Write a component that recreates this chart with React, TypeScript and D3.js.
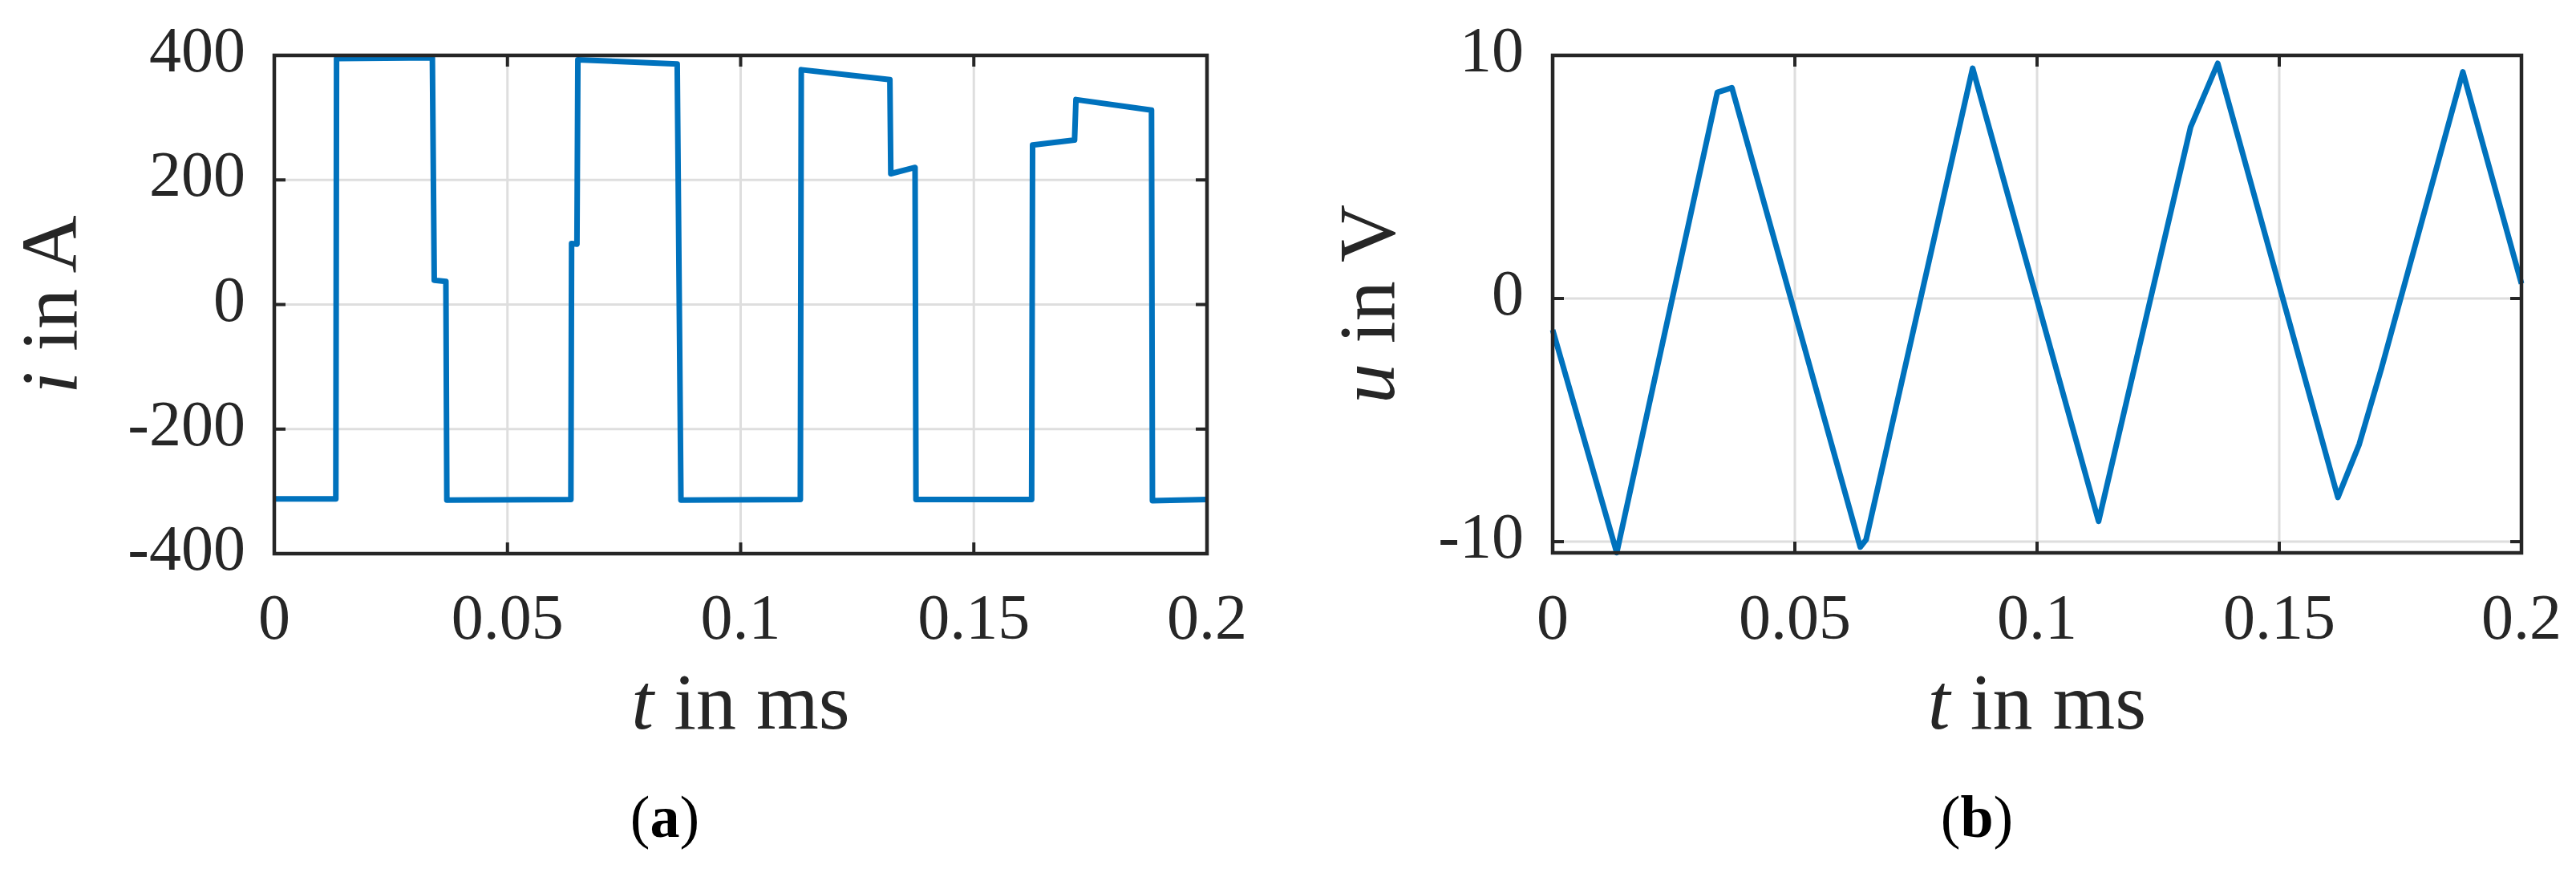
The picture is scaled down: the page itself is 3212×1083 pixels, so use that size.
import React from "react";
import * as d3 from "d3";

// ---- Data ----
const currentT = [0, 0.0132, 0.01335, 0.0339, 0.0343, 0.0368, 0.037, 0.0636, 0.06375, 0.0649, 0.0651, 0.0864, 0.0872, 0.1128, 0.113, 0.132, 0.1322, 0.1374, 0.1376, 0.1624, 0.1626, 0.1716, 0.1719, 0.1881, 0.1883, 0.2];
const currentI = [-312, -312, 395, 396, 39, 37, -314, -313, 98, 97, 393, 386, -314, -313, 377, 361, 210, 220, -313, -313, 256, 264, 329, 312, -315, -313];

const voltageT = [0, 0.01323, 0.034, 0.037, 0.0635, 0.0647, 0.0867, 0.1127, 0.1317, 0.1373, 0.1621, 0.1665, 0.1711, 0.1879, 0.2];
const voltageU = [-1.29, -10.45, 8.48, 8.67, -10.22, -9.92, 9.47, -9.16, 7.05, 9.67, -8.18, -6.0, -2.87, 9.32, 0.61];

const xTicks = [0, 0.05, 0.1, 0.15, 0.2];
const xTickLabels = ["0", "0.05", "0.1", "0.15", "0.2"];
const iTicks = [400, 200, 0, -200, -400];
const iTickLabels = ["400", "200", "0", "-200", "-400"];
const uTicks = [10, 0, -10];
const uTickLabels = ["10", "0", "-10"];

const FONT = "'Liberation Serif', 'DejaVu Serif', serif";
const AX = "#262626";
const GRID = "#dedede";
const LINE = "#0072BD";

type PanelProps = {
  left: number; right: number; top: number; bottom: number;
  yDomain: [number, number];
  yTicks: number[]; yTickLabels: string[];
  ts: number[]; vs: number[];
  yVar: string; yUnit: string; yLabelX: number;
  caption: string; captionX: number;
};

function Panel(p: PanelProps) {
  const x = d3.scaleLinear().domain([0, 0.2]).range([p.left, p.right]);
  const y = d3.scaleLinear().domain(p.yDomain).range([p.bottom, p.top]);
  const pts: [number, number][] = p.ts.map((t, k) => [t, p.vs[k]]);
  const line = d3.line<[number, number]>().x(d => x(d[0])).y(d => y(d[1]));
  const tl = 14;
  const cy = (p.top + p.bottom) / 2;
  const cx = (p.left + p.right) / 2;
  return (
    <g>
      {xTicks.slice(1, -1).map((t, k) => (
        <line key={"gx" + k} x1={x(t)} x2={x(t)} y1={p.top} y2={p.bottom} stroke={GRID} strokeWidth={3} />
      ))}
      {p.yTicks.filter(v => y(v) > p.top + 2 && y(v) < p.bottom - 2).map((v, k) => (
        <line key={"gy" + k} x1={p.left} x2={p.right} y1={y(v)} y2={y(v)} stroke={GRID} strokeWidth={3} />
      ))}
      <path d={line(pts) || ""} fill="none" stroke={LINE} strokeWidth={7} strokeLinejoin="round" />
      {xTicks.map((t, k) => (
        <g key={"tx" + k}>
          <line x1={x(t)} x2={x(t)} y1={p.bottom} y2={p.bottom - tl} stroke={AX} strokeWidth={4} />
          <line x1={x(t)} x2={x(t)} y1={p.top} y2={p.top + tl} stroke={AX} strokeWidth={4} />
          <text x={x(t)} y={796} textAnchor="middle" fontSize={80} fontFamily={FONT} fill={AX}>{xTickLabels[k]}</text>
        </g>
      ))}
      {p.yTicks.map((v, k) => (
        <g key={"ty" + k}>
          <line x1={p.left} x2={p.left + tl} y1={y(v)} y2={y(v)} stroke={AX} strokeWidth={4} />
          <line x1={p.right} x2={p.right - tl} y1={y(v)} y2={y(v)} stroke={AX} strokeWidth={4} />
          <text x={p.left - 36} y={y(v) + 20} textAnchor="end" fontSize={80} fontFamily={FONT} fill={AX}>{p.yTickLabels[k]}</text>
        </g>
      ))}
      <rect x={p.left} y={p.top} width={p.right - p.left} height={p.bottom - p.top} fill="none" stroke={AX} strokeWidth={4.5} />
      <text x={cx} y={908} textAnchor="middle" fontSize={100} fontFamily={FONT} fill={AX}>
        <tspan fontStyle="italic">t</tspan>{" in ms"}
      </text>
      <text transform={`translate(${p.yLabelX},${cy}) rotate(-90)`} textAnchor="middle" fontSize={100} fontFamily={FONT} fill={AX}>
        <tspan fontStyle="italic">{p.yVar}</tspan>{" in " + p.yUnit}
      </text>
      <text x={p.captionX} y={1043} textAnchor="middle" fontSize={74} fontFamily={FONT} fill="#000">
        {"("}<tspan fontWeight="bold">{p.caption}</tspan>{")"}
      </text>
    </g>
  );
}

export default function App() {
  return (
    <svg width={3212} height={1083} viewBox="0 0 3212 1083" style={{ position: "absolute", left: 0, top: 0, background: "#fff" }}>
      <rect x={0} y={0} width={3212} height={1083} fill="#fff" />
      <Panel left={342} right={1505} top={69} bottom={690} yDomain={[-400, 400]}
        yTicks={iTicks} yTickLabels={iTickLabels} ts={currentT} vs={currentI}
        yVar="i" yUnit="A" yLabelX={95} caption="a" captionX={829} />
      <Panel left={1936} right={3144} top={69} bottom={689} yDomain={[-10.46, 10]}
        yTicks={uTicks} yTickLabels={uTickLabels} ts={voltageT} vs={voltageU}
        yVar="u" yUnit="V" yLabelX={1738} caption="b" captionX={2465} />
    </svg>
  );
}
